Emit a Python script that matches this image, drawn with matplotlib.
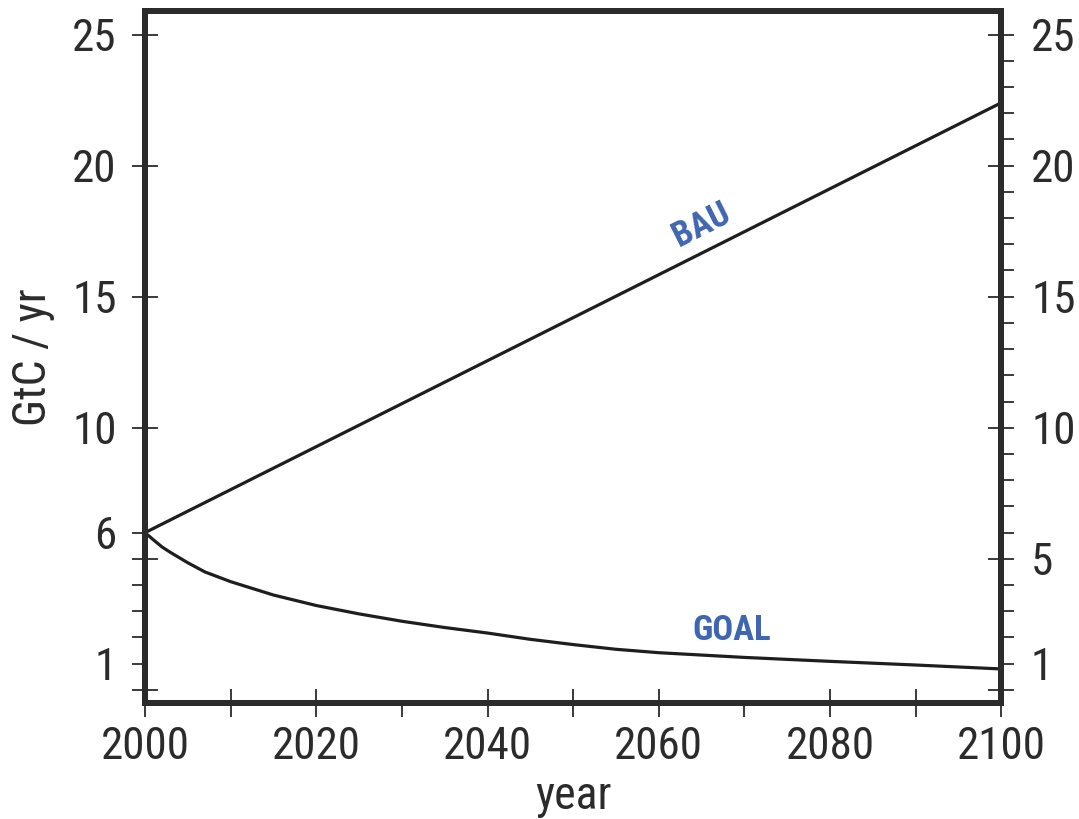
import matplotlib
matplotlib.use("Agg")
import matplotlib.pyplot as plt
from matplotlib import font_manager as fm
from matplotlib.ticker import FixedLocator, FuncFormatter
import numpy as np

# ----------------------------------------------------------------------------
# Data
# ----------------------------------------------------------------------------

bau_years = [2000, 2100]
bau_vals = [6.0, 22.4]

goal_years = [2000, 2001, 2002, 2003, 2005, 2007, 2010, 2015, 2020, 2025,
              2030, 2035, 2040, 2045, 2050, 2055, 2060, 2070, 2080, 2090,
              2100]
goal_vals = [6.0, 5.72, 5.45, 5.24, 4.85, 4.5, 4.13, 3.62, 3.22, 2.9,
             2.62, 2.38, 2.17, 1.93, 1.73, 1.55, 1.42, 1.24, 1.09, 0.95,
             0.8]

left_labels = [1, 6, 10, 15, 20, 25]
right_labels = [1, 5, 10, 15, 20, 25]
x_labels = [2000, 2020, 2040, 2060, 2080, 2100]

# ----------------------------------------------------------------------------
# Style
# ----------------------------------------------------------------------------

have = set(f.name for f in fm.fontManager.ttflist)
cands = ['Roboto Condensed', 'Archivo Narrow', 'PT Sans Narrow',
         'Liberation Sans Narrow', 'Open Sans Condensed']
fam = [c for c in cands if c in have][:1] + ['DejaVu Sans']
plt.rcParams['font.family'] = fam

ink = '#2b2b2b'
blue = '#3f66b0'
spw = 4.3

fig = plt.figure(figsize=(10.79, 8.19), dpi=100)
ax = fig.add_axes([0.1344, 0.1416, 0.7936, 0.845])
ax2 = ax.twinx()

ax.plot(bau_years, bau_vals, color='#1e1e1e', lw=2.3, solid_capstyle='butt')
ax.plot(goal_years, goal_vals, color='#1e1e1e', lw=2.3,
        solid_joinstyle='round')

ax.set_xlim(2000, 2100)
for a in (ax, ax2):
    a.set_ylim(-0.5, 25.9)
    for s in a.spines.values():
        s.set_linewidth(spw)
        s.set_color(ink)

# x ticks: crossing ticks everywhere except 2030 / 2070 (outward only)
xmaj = [2000, 2010, 2020, 2040, 2050, 2060, 2080, 2090, 2100]
ax.xaxis.set_major_locator(FixedLocator(xmaj))
ax.xaxis.set_major_formatter(FuncFormatter(
    lambda v, p: '%d' % v if int(round(v)) in x_labels else ''))
ax.xaxis.set_minor_locator(FixedLocator([2030, 2070]))
ax.xaxis.set_minor_formatter(FuncFormatter(lambda v, p: ''))

# left y ticks
ax.yaxis.set_major_locator(FixedLocator([0, 5, 10, 15, 20, 25]))
ax.yaxis.set_major_formatter(FuncFormatter(
    lambda v, p: '%d' % v if int(round(v)) in left_labels else ''))
ax.yaxis.set_minor_locator(FixedLocator([1, 2, 3, 4, 6]))
ax.yaxis.set_minor_formatter(FuncFormatter(
    lambda v, p: '%d' % v if int(round(v)) in left_labels else ''))

# right y ticks
ax2.yaxis.set_major_locator(FixedLocator([0, 5, 10, 15, 20, 25]))
ax2.yaxis.set_major_formatter(FuncFormatter(
    lambda v, p: '%d' % v if int(round(v)) in right_labels else ''))
ax2.yaxis.set_minor_locator(FixedLocator([v for v in range(1, 25) if v % 5]))
ax2.yaxis.set_minor_formatter(FuncFormatter(
    lambda v, p: '%d' % v if int(round(v)) in right_labels else ''))

ax.tick_params(axis='x', which='major', direction='inout', length=19.5,
               width=1.3, color=ink, labelsize=32.5, labelcolor=ink, pad=7,
               top=False)
ax.tick_params(axis='x', which='minor', direction='out', length=9.8,
               width=1.3, color=ink, top=False)
ax.tick_params(axis='y', which='major', direction='inout', length=19,
               width=1.3, color=ink, labelsize=32.5, labelcolor=ink, pad=11,
               right=False)
ax.tick_params(axis='y', which='minor', direction='out', length=9.5,
               width=1.3, color=ink, labelsize=32.5, labelcolor=ink, pad=11,
               right=False)
ax2.tick_params(axis='y', which='major', direction='inout', length=19,
                width=1.3, color=ink, labelsize=32.5, labelcolor=ink, pad=12,
                left=False)
ax2.tick_params(axis='y', which='minor', direction='out', length=9,
                width=1.3, color=ink, labelsize=32.5, labelcolor=ink, pad=12,
                left=False)

ax.set_xlabel('year', fontsize=33, color=ink, labelpad=4)
ax.set_ylabel('GtC / yr', fontsize=33, color=ink, labelpad=12)

# labels on the curves
p0 = ax.transData.transform((bau_years[0], bau_vals[0]))
p1 = ax.transData.transform((bau_years[1], bau_vals[1]))
ang = np.degrees(np.arctan2(p1[1] - p0[1], p1[0] - p0[0]))
ax.text(2065, 17.75, 'BAU', color=blue, fontsize=25, fontweight='bold',
        rotation=ang, rotation_mode='anchor', ha='center', va='center')
ax.text(2068.5, 2.25, 'GOAL', color=blue, fontsize=25, fontweight='bold',
        ha='center', va='center')

fig.savefig('out.png', dpi=100)
